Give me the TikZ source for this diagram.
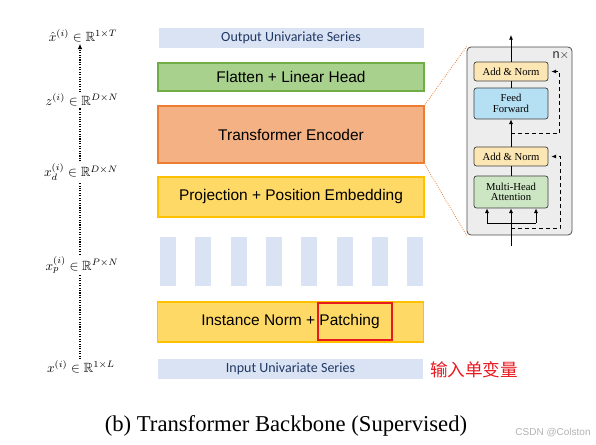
\documentclass[tikz,border=0pt]{standalone}
\usepackage{amsmath,amssymb}
\usepackage{fontspec}
\setmainfont{Liberation Serif}
\newfontfamily\arialf{Liberation Sans}
\newfontfamily\calf{Carlito}
\newfontfamily\cjk{Noto Sans CJK SC}
\usetikzlibrary{arrows.meta}
\newdimen\pxu \pxu=0.75pt
\definecolor{serbg}{HTML}{DAE3F3}
\definecolor{sertx}{HTML}{203864}
\definecolor{grfill}{HTML}{A9D18E}
\definecolor{grdraw}{HTML}{70AD47}
\definecolor{orfill}{HTML}{F4B183}
\definecolor{ordraw}{HTML}{ED7D31}
\definecolor{yefill}{HTML}{FFD966}
\definecolor{yedraw}{HTML}{FFC000}
\definecolor{hired}{HTML}{E8191F}
\definecolor{gboxfill}{HTML}{EDEDED}
\definecolor{anfill}{HTML}{FBE6B4}
\definecolor{fffill}{HTML}{B5DFF3}
\definecolor{mhfill}{HTML}{CCE5C2}
\tikzset{
  serbox/.style={fill=serbg, inner sep=0, outer sep=0, minimum width=265\pxu, minimum height=20\pxu, text=sertx, font=\calf\fontsize{10.5}{12}\selectfont},
  mainbox/.style={inner sep=0, outer sep=0, minimum width=266\pxu, line width=1.5\pxu, font=\arialf\fontsize{11.6}{13}\selectfont},
  patchbar/.style={fill=serbg, inner sep=0, minimum width=16\pxu, minimum height=49\pxu},
  mlabel/.style={inner sep=1pt, font=\fontsize{10}{12}\selectfont},
  dotln/.style={densely dotted, line width=1.1\pxu},
  sub/.style={draw=black!75, rounded corners=2.5\pxu, line width=0.7\pxu, inner sep=0, minimum width=74\pxu, align=center, font=\fontsize{8}{9}\selectfont},
  arr/.style={-{Latex[length=3.5pt,width=3pt]}, line width=0.8\pxu},
  resid/.style={dashed, dash pattern=on 4\pxu off 3\pxu, line width=1\pxu},
}
\begin{document}
\begin{tikzpicture}[x=0.75pt, y=-0.75pt]
\useasboundingbox (0,0) rectangle (596,445);

% main stack
\node[serbox] (out) at (291,38) {Output Univariate Series};
\node[mainbox, fill=grfill, draw=grdraw, minimum height=28\pxu] (flat) at (291,77) {Flatten + Linear Head};
\node[mainbox, fill=orfill, draw=ordraw, minimum height=57\pxu] (enc) at (291,134.5) {Transformer Encoder};
\node[mainbox, fill=yefill, draw=yedraw, minimum height=40\pxu] (proj) at (291,197) {Projection + Position Embedding};
\foreach \k in {0,...,7} {
  \node[patchbar] (p\k) at ({168+35.3*\k},261.5) {};
}
\node[mainbox, fill=yefill, draw=yedraw, minimum height=40\pxu] (norm) at (290.5,322) {Instance Norm + Patching};
\node[draw=hired, line width=2\pxu, inner sep=0, minimum width=74\pxu, minimum height=37\pxu] (red) at (355,321.5) {};
\node[serbox] (inp) at (290.5,369) {Input Univariate Series};
\node[text=hired, inner sep=0, font=\cjk\fontsize{13.2}{15}\selectfont] (cn) at (474,370) {输入单变量};

% left labels
\coordinate (dx) at (80,0);
\node[mlabel] (lh) at (83,36) {$\hat{x}^{(i)} \in \mathbb{R}^{1\times T}$};
\node[mlabel] (lz) at (82,100) {$z^{(i)} \in \mathbb{R}^{D\times N}$};
\node[mlabel] (ld) at (81,172) {$x_d^{(i)} \in \mathbb{R}^{D\times N}$};
\node[mlabel] (lp) at (82,265) {$x_p^{(i)} \in \mathbb{R}^{P\times N}$};
\node[mlabel] (lx) at (81,367) {$x^{(i)} \in \mathbb{R}^{1\times L}$};
\draw[dotln] (lx.north -| dx) -- (lp.south -| dx);
\draw[dotln] (lp.north -| dx) -- (ld.south -| dx);
\draw[dotln] (ld.north -| dx) -- (lz.south -| dx);
\draw[dotln, -{Latex[length=4pt,width=3.5pt]}] (lz.north -| dx) -- (lh.south -| dx);

% encoder detail
\node[draw=black!70, fill=gboxfill, rounded corners=4\pxu, line width=0.8\pxu, inner sep=0, minimum width=105\pxu, minimum height=188\pxu] (gbox) at (519.5,141) {};
\node[font=\arialf\fontsize{9.5}{11}\selectfont, text=black!85, inner sep=0] (nx) at (561,56) {n$\times$};
\node[sub, fill=anfill, minimum height=19\pxu] (an2) at (511,71.5) {Add \& Norm};
\node[sub, fill=fffill, minimum height=31\pxu] (ff) at (511,103.5) {Feed\\[-1pt]Forward};
\node[sub, fill=anfill, minimum height=19\pxu] (an1) at (511,156.5) {Add \& Norm};
\node[sub, fill=mhfill, minimum height=32\pxu] (mha) at (511,192) {Multi-Head\\[-1pt]Attention};

\coordinate (bin) at (511,246);
\coordinate (bl) at (487,223);
\coordinate (br) at (536,223);
\coordinate (tout) at (511,35);
\draw[arr] (bin) -- (mha.south);
\draw[line width=0.8\pxu] (bl) -- (br);
\draw[arr] (bl) -- (bl |- mha.south);
\draw[arr] (br) -- (br |- mha.south);
\draw[line width=0.8\pxu] (mha.north) -- (an1.south);
\draw[arr] (an1.north) -- (ff.south);
\draw[line width=0.8\pxu] (ff.north) -- (an2.south);
\draw[arr] (an2.north) -- (tout);

\coordinate (r1a) at (511,229);
\coordinate (r1b) at (560,229);
\coordinate (r2a) at (511,134);
\coordinate (r2b) at (559,134);
\draw[resid, -{Latex[length=3.5pt,width=3pt]}] (r1a) -- (r1b) -- (r1b |- an1.east) -- ([xshift=3\pxu]an1.east);
\draw[resid, -{Latex[length=3.5pt,width=3pt]}] (r2a) -- (r2b) -- (r2b |- an2.east) -- ([xshift=3\pxu]an2.east);

\draw[ordraw, densely dotted, line width=0.8\pxu] (enc.north east) -- (gbox.north west);
\draw[ordraw, densely dotted, line width=0.8\pxu] (enc.south east) -- (gbox.south west);

% caption and watermark
\node[anchor=base, inner sep=0, font=\fontsize{17}{20}\selectfont] (cap) at (286,431) {(b) Transformer Backbone (Supervised)};
\node[inner sep=0, text=black!30, font=\arialf\fontsize{7.5}{9}\selectfont] (wm) at (553,433) {CSDN @Colston};
\end{tikzpicture}
\end{document}
